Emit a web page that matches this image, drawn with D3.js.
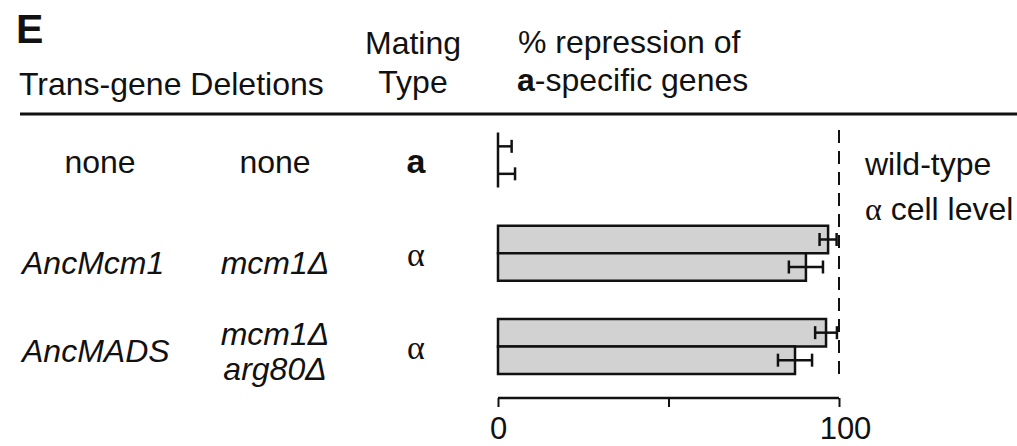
<!DOCTYPE html>
<html>
<head>
<meta charset="utf-8">
<script src="https://cdn.jsdelivr.net/npm/d3@7"></script>
<style>
  body { margin: 0; background: #fff; }
  svg text { font-family: "Liberation Sans", Arial, sans-serif; fill: #111; }
</style>
</head>
<body>
<div id="chart"></div>
<script>
// data
var transgenes = ["none", "AncMcm1", "AncMADS"];
var deletions = [["none"], ["mcm1\u0394"], ["mcm1\u0394", "arg80\u0394"]];
var matingTypes = ["a", "\u03b1", "\u03b1"];
var repressionA = [0, 96.8, 96.2];   // upper bar of each pair
var repressionB = [0, 90.3, 87.1];   // lower bar of each pair
var errorA = [4, 2.5, 3.2];
var errorB = [5, 5, 5];
var axisTicks = [0, 50, 100];
var axisLabels = ["0", "", "100"];
var wildTypeLevel = 100;

var width = 1017, height = 446;

var svg = d3.select("#chart")
  .append("svg")
    .attr("width", width)
    .attr("height", height);

function label(sel, x, y, str, anchor) {
  return sel.append("text")
    .attr("x", x).attr("y", y)
    .attr("text-anchor", anchor || "start")
    .style("font-size", "32px")
    .text(str);
}

// x scale for % repression
var x = d3.scaleLinear()
  .domain([0, 100])
  .range([498, 839]);

// rows and the two bars inside each row
var y = d3.scaleBand()
  .domain(transgenes)
  .range([113.5, 393]);
var inner = d3.scaleBand()
  .domain(["A", "B"])
  .range([0, 55]);

var rows = transgenes.map(function(t, i) {
  return {
    name: t, del: deletions[i], mt: matingTypes[i],
    bars: [
      {k: "A", v: repressionA[i], e: errorA[i]},
      {k: "B", v: repressionB[i], e: errorB[i]}
    ]
  };
});

function rowMid(d) { return y(d.name) + y.bandwidth() / 2; }
var labelShift = [13, 21, 16];

// panel letter and header
svg.append("text")
  .attr("x", 16).attr("y", 43)
  .style("font-size", "41px").style("font-weight", "bold")
  .text("E");

label(svg, 19, 95, "Trans-gene Deletions");
label(svg, 413, 54, "Mating", "middle");
label(svg, 413, 93, "Type", "middle");
label(svg, 518, 53, "% repression of");
var h2 = label(svg, 517, 91, "");
h2.append("tspan").style("font-weight", "bold").text("a");
h2.append("tspan").text("-specific genes");

svg.append("line")
  .attr("x1", 20).attr("x2", width)
  .attr("y1", 114).attr("y2", 114)
  .attr("stroke", "#111").attr("stroke-width", 3);

// row labels
rows.forEach(function(d, i) {
  var base = rowMid(d) + labelShift[i];
  var t = label(svg, i === 0 ? 100 : 22, base, d.name, i === 0 ? "middle" : "start");
  if (i > 0) t.style("font-style", "italic");

  var n = d.del.length;
  d.del.forEach(function(s, j) {
    var dt = label(svg, 275, base + (j - (n - 1) / 2) * 35, s, "middle");
    if (i > 0) dt.style("font-style", "italic");
  });

  var m = label(svg, 416, rowMid(d) + (i === 0 ? 13 : 13), d.mt, "middle");
  if (i === 0) m.style("font-weight", "bold").style("font-size", "34px");
  else m.style("font-family", "'Liberation Serif', 'DejaVu Serif', serif")
        .style("font-size", "34px");
});

// dashed wild-type level
svg.append("line")
  .attr("x1", x(wildTypeLevel)).attr("x2", x(wildTypeLevel))
  .attr("y1", 130).attr("y2", 378)
  .attr("stroke", "#111").attr("stroke-width", 2)
  .attr("stroke-dasharray", "13,8");

label(svg, 865, 175, "wild-type");
var wt = label(svg, 865, 220, "");
wt.append("tspan").style("font-family", "'Liberation Serif', 'DejaVu Serif', serif").text("\u03b1");
wt.append("tspan").text(" cell level");

// bars (paths so that zero-length bars still show their outline)
var groups = svg.selectAll(".grp")
  .data(rows)
  .enter()
  .append("g")
    .attr("class", "grp")
    .attr("transform", function(d) { return "translate(0," + (rowMid(d) - 27.5) + ")"; });

groups.selectAll("path.bar")
  .data(function(d) { return d.bars; })
  .enter()
  .append("path")
    .attr("class", "bar")
    .attr("d", function(b) {
      var w = x(b.v) - x(0), h = inner.bandwidth();
      return "M" + x(0) + "," + inner(b.k) + "h" + w + "v" + h + "h" + (-w) + "Z";
    })
    .attr("fill", "#d2d2d2")
    .attr("stroke", "#111")
    .attr("stroke-width", 2.5);

// error bars
var eb = groups.selectAll(".err")
  .data(function(d) { return d.bars; })
  .enter()
  .append("g")
    .attr("class", "err")
    .attr("stroke", "#111")
    .attr("stroke-width", 2.5);

function lo(b) { return Math.max(0, b.v - b.e); }
function mid(b) { return inner(b.k) + inner.bandwidth() / 2; }
eb.append("line")
  .attr("x1", function(b) { return x(lo(b)); })
  .attr("x2", function(b) { return x(b.v + b.e); })
  .attr("y1", mid)
  .attr("y2", mid);
eb.append("line")
  .attr("x1", function(b) { return x(b.v + b.e); })
  .attr("x2", function(b) { return x(b.v + b.e); })
  .attr("y1", function(b) { return mid(b) - 6.5; })
  .attr("y2", function(b) { return mid(b) + 6.5; });
eb.filter(function(b) { return b.v - b.e > 0; })
  .append("line")
  .attr("x1", function(b) { return x(b.v - b.e); })
  .attr("x2", function(b) { return x(b.v - b.e); })
  .attr("y1", function(b) { return mid(b) - 6.5; })
  .attr("y2", function(b) { return mid(b) + 6.5; });

// x axis
var axis = svg.append("g")
  .attr("transform", "translate(0,398)")
  .call(d3.axisBottom(x)
    .tickValues(axisTicks)
    .tickSize(9)
    .tickPadding(10)
    .tickFormat(function(d, i) { return axisLabels[i]; }));
axis.select(".domain").attr("stroke", "#111").attr("stroke-width", 2.5)
  .attr("d", "M" + x(0) + ",0H" + x(100));
axis.selectAll(".tick line").attr("stroke", "#111").attr("stroke-width", 2);
axis.selectAll(".tick text")
  .style("font-size", "31px")
  .style("font-family", "'Liberation Sans', Arial, sans-serif")
  .attr("fill", "#111");
axis.selectAll(".tick text").filter(function(d) { return d === 100; }).attr("dx", 6);
</script>
</body>
</html>
